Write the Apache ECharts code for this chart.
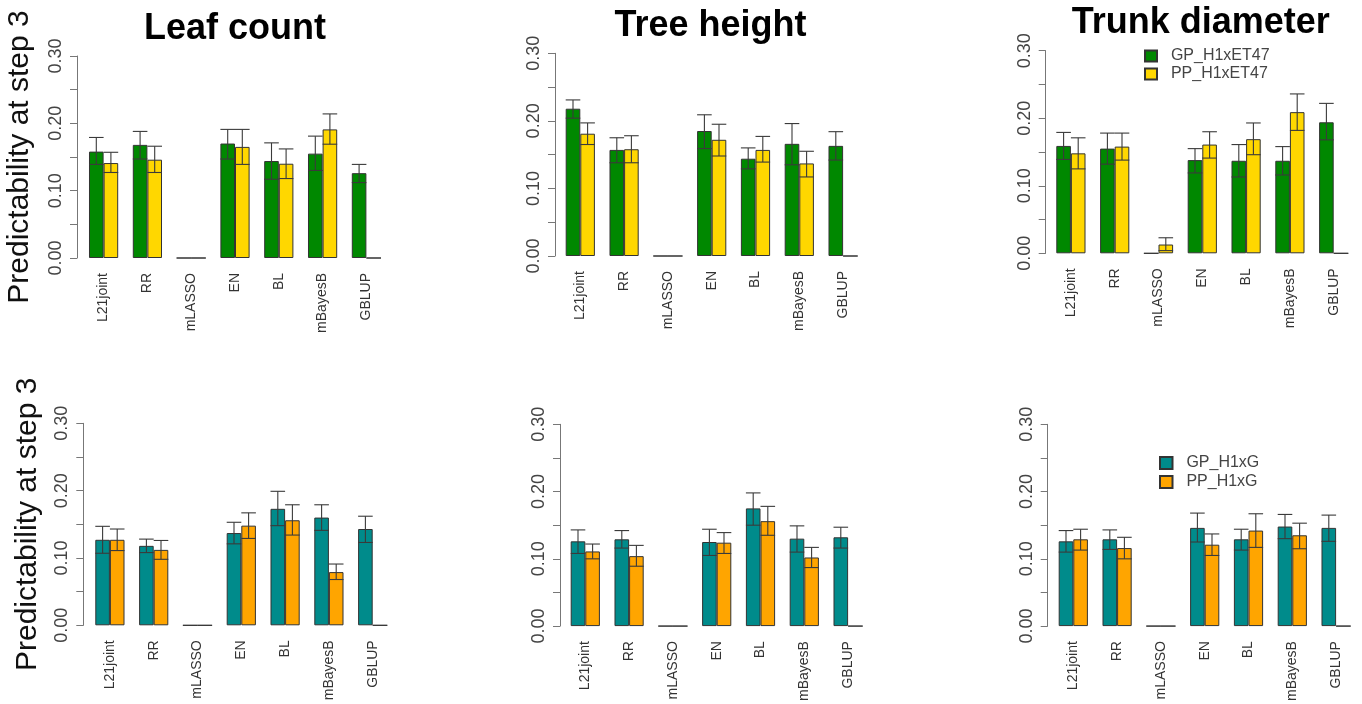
<!DOCTYPE html>
<html>
<head>
<meta charset="utf-8">
<script src="https://cdn.jsdelivr.net/npm/echarts@6/dist/echarts.min.js"></script>
<style>
html,body{margin:0;padding:0;background:#fff;}
#chart{width:1362px;height:704px;}
</style>
</head>
<body>
<div id="chart"></div>
<script>
// ---------- data ----------
const categories = ['L21joint', 'RR', 'mLASSO', 'EN', 'BL', 'mBayesB', 'GBLUP'];
const yTickValues = [0.00, 0.10, 0.20, 0.30];
const titles = ['Leaf count', 'Tree height', 'Trunk diameter'];
const yAxisTitle = 'Predictability at step 3';
const topSeriesNames = ['GP_H1xET47', 'PP_H1xET47'];
const bottomSeriesNames = ['GP_H1xG', 'PP_H1xG'];

// Top row (H1xET47)
const leafGP_ET = [0.158, 0.168, 0, 0.170, 0.144, 0.155, 0.126];
const leafGP_ET_lo = [0.139, 0.147, 0, 0.147, 0.117, 0.130, 0.112];
const leafGP_ET_hi = [0.179, 0.188, 0, 0.191, 0.171, 0.181, 0.139];
const leafPP_ET = [0.141, 0.146, 0, 0.165, 0.140, 0.191, 0];
const leafPP_ET_lo = [0.127, 0.127, 0, 0.139, 0.118, 0.169, 0];
const leafPP_ET_hi = [0.157, 0.166, 0, 0.191, 0.162, 0.214, 0];

const heightGP_ET = [0.218, 0.157, 0, 0.185, 0.144, 0.166, 0.163];
const heightGP_ET_lo = [0.204, 0.138, 0, 0.159, 0.129, 0.135, 0.142];
const heightGP_ET_hi = [0.231, 0.175, 0, 0.209, 0.160, 0.196, 0.184];
const heightPP_ET = [0.181, 0.158, 0, 0.172, 0.157, 0.137, 0];
const heightPP_ET_lo = [0.165, 0.138, 0, 0.148, 0.139, 0.117, 0];
const heightPP_ET_hi = [0.197, 0.178, 0, 0.195, 0.177, 0.155, 0];

const trunkGP_ET = [0.159, 0.155, 0, 0.138, 0.137, 0.137, 0.194];
const trunkGP_ET_lo = [0.139, 0.132, 0, 0.119, 0.113, 0.116, 0.168];
const trunkGP_ET_hi = [0.179, 0.178, 0, 0.155, 0.161, 0.158, 0.222];
const trunkPP_ET = [0.148, 0.158, 0.013, 0.161, 0.169, 0.209, 0];
const trunkPP_ET_lo = [0.125, 0.138, 0.004, 0.141, 0.146, 0.182, 0];
const trunkPP_ET_hi = [0.171, 0.178, 0.023, 0.180, 0.193, 0.236, 0];

// Bottom row (H1xG)
const leafGP_G = [0.127, 0.118, 0, 0.137, 0.173, 0.160, 0.143];
const leafGP_G_lo = [0.107, 0.108, 0, 0.121, 0.148, 0.141, 0.123];
const leafGP_G_hi = [0.147, 0.128, 0, 0.153, 0.199, 0.179, 0.162];
const leafPP_G = [0.127, 0.112, 0, 0.148, 0.156, 0.079, 0];
const leafPP_G_lo = [0.111, 0.098, 0, 0.129, 0.134, 0.068, 0];
const leafPP_G_hi = [0.143, 0.126, 0, 0.167, 0.179, 0.091, 0];

const heightGP_G = [0.126, 0.129, 0, 0.125, 0.175, 0.130, 0.132];
const heightGP_G_lo = [0.108, 0.116, 0, 0.105, 0.150, 0.110, 0.116];
const heightGP_G_hi = [0.143, 0.142, 0, 0.144, 0.198, 0.149, 0.147];
const heightPP_G = [0.111, 0.104, 0, 0.124, 0.156, 0.102, 0];
const heightPP_G_lo = [0.100, 0.089, 0, 0.108, 0.135, 0.087, 0];
const heightPP_G_hi = [0.122, 0.120, 0, 0.139, 0.178, 0.117, 0];

const trunkGP_G = [0.126, 0.129, 0, 0.146, 0.129, 0.148, 0.146];
const trunkGP_G_lo = [0.110, 0.114, 0, 0.125, 0.113, 0.130, 0.126];
const trunkGP_G_hi = [0.142, 0.143, 0, 0.168, 0.144, 0.166, 0.165];
const trunkPP_G = [0.129, 0.116, 0, 0.121, 0.142, 0.135, 0];
const trunkPP_G_lo = [0.113, 0.100, 0, 0.105, 0.117, 0.115, 0];
const trunkPP_G_hi = [0.144, 0.132, 0, 0.137, 0.167, 0.153, 0];

// ---------- layout / style ----------
const FONT = '"Liberation Sans", Arial, Helvetica, sans-serif';
const COL_GP_ET = '#008800', COL_PP_ET = '#FFD700';
const COL_GP_G = '#008B8B', COL_PP_G = '#FFA500';
const BAND = 43.8;
// axis x, first bar left, y(0.30), y(0.00)
const panels = [
  {ax: 77,     bl: 89,     top: 56,    bot: 258,   row: 0, col: 0},
  {ax: 555,    bl: 565.7,  top: 53.3,  bot: 256,   row: 0, col: 1},
  {ax: 1045.7, bl: 1056.3, top: 50.7,  bot: 253.3, row: 0, col: 2},
  {ax: 83.3,   bl: 95.3,   top: 423.3, bot: 625.3, row: 1, col: 0},
  {ax: 560,    bl: 570.7,  top: 424.3, bot: 626.7, row: 1, col: 1},
  {ax: 1047.7, bl: 1058.7, top: 424.3, bot: 626.7, row: 1, col: 2}
];
const panelData = [
  [leafGP_ET, leafGP_ET_lo, leafGP_ET_hi, leafPP_ET, leafPP_ET_lo, leafPP_ET_hi],
  [heightGP_ET, heightGP_ET_lo, heightGP_ET_hi, heightPP_ET, heightPP_ET_lo, heightPP_ET_hi],
  [trunkGP_ET, trunkGP_ET_lo, trunkGP_ET_hi, trunkPP_ET, trunkPP_ET_lo, trunkPP_ET_hi],
  [leafGP_G, leafGP_G_lo, leafGP_G_hi, leafPP_G, leafPP_G_lo, leafPP_G_hi],
  [heightGP_G, heightGP_G_lo, heightGP_G_hi, heightPP_G, heightPP_G_lo, heightPP_G_hi],
  [trunkGP_G, trunkGP_G_lo, trunkGP_G_hi, trunkPP_G, trunkPP_G_lo, trunkPP_G_hi]
];

function renderErr(params, api) {
  const i = api.value(0), lo = api.value(1), hi = api.value(2), side = api.value(3);
  const pLo = api.coord([i, lo]);
  const pHi = api.coord([i, hi]);
  const band = api.size([1, 0])[0];
  const bw = band / 3;
  const cx = pLo[0] + side * bw / 2;
  const hw = bw / 2;
  const st = {stroke: '#3a3a3a', lineWidth: 1.1};
  return {
    type: 'group',
    children: [
      {type: 'line', shape: {x1: cx, y1: pHi[1], x2: cx, y2: pLo[1]}, style: st},
      {type: 'line', shape: {x1: cx - hw, y1: pHi[1], x2: cx + hw, y2: pHi[1]}, style: st},
      {type: 'line', shape: {x1: cx - hw, y1: pLo[1], x2: cx + hw, y2: pLo[1]}, style: st}
    ]
  };
}

const grids = [], xAxes = [], yAxes = [], series = [];
panels.forEach((p, k) => {
  const left = p.bl - BAND / 6;
  grids.push({left: left, top: p.top, width: BAND * 7, height: p.bot - p.top});
  xAxes.push({
    type: 'category', gridIndex: k, data: categories,
    axisLine: {show: false}, axisTick: {show: false},
    axisLabel: {interval: 0, rotate: 90, margin: 15, fontSize: 14, color: '#333', fontFamily: FONT}
  });
  yAxes.push({
    type: 'value', gridIndex: k, min: 0, max: 0.30, interval: 0.05,
    offset: left - p.ax,
    splitLine: {show: false},
    axisLine: {show: true, lineStyle: {color: '#777', width: 1}},
    axisTick: {show: true, length: 7, lineStyle: {color: '#777', width: 1}},
    axisLabel: {
      rotate: 90, margin: 12, fontSize: 18, color: '#444', fontFamily: FONT,
      formatter: v => (yTickValues.some(t => Math.abs(t - v) < 1e-6) ? v.toFixed(2) : '')
    },
    name: p.col === 0 ? yAxisTitle : '',
    nameLocation: 'middle', nameRotate: 90,
    nameGap: p.row === 0 ? 42 : 41,
    nameTextStyle: {fontSize: 30, color: '#111', fontFamily: FONT}
  });
  const d = panelData[k];
  const names = p.row === 0 ? topSeriesNames : bottomSeriesNames;
  const cols = p.row === 0 ? [COL_GP_ET, COL_PP_ET] : [COL_GP_G, COL_PP_G];
  [0, 1].forEach(s => {
    series.push({
      type: 'bar', name: names[s], xAxisIndex: k, yAxisIndex: k,
      data: d[s * 3], barGap: '0%', barCategoryGap: '33.333%',
      itemStyle: {color: cols[s], borderColor: '#333', borderWidth: 1},
      emphasis: {disabled: true}, z: 2, animation: false
    });
  });
  const errData = [];
  [0, 1].forEach(s => {
    const lo = d[s * 3 + 1], hi = d[s * 3 + 2];
    for (let i = 0; i < categories.length; i++) {
      if (hi[i] > 0) errData.push([i, lo[i], hi[i], s === 0 ? -1 : 1]);
    }
  });
  series.push({
    type: 'custom', xAxisIndex: k, yAxisIndex: k, renderItem: renderErr,
    data: errData, encode: {x: 0, y: [1, 2]}, z: 5, silent: true, animation: false
  });
});

const titleX = [235, 710.5, 1200.7];
const titleY = [29, 26, 23];
const graphics = titles.map((t, i) => ({
  type: 'text', x: titleX[i], y: titleY[i],
  style: {text: t, font: 'bold 36px ' + FONT, fill: '#000', textAlign: 'center', textVerticalAlign: 'middle'}
}));

const legendText = {fontSize: 16, color: '#444', fontFamily: FONT};
const option = {
  backgroundColor: '#fff',
  animation: false,
  textStyle: {fontFamily: FONT},
  grid: grids, xAxis: xAxes, yAxis: yAxes, series: series,
  graphic: graphics,
  legend: [
    {
      data: topSeriesNames, orient: 'vertical', left: 1144, top: 48, padding: 0,
      icon: 'rect', itemWidth: 12, itemHeight: 11, itemGap: 2,
      formatter: n => '\u00a0\u00a0' + n, textStyle: legendText,
      selectedMode: false
    },
    {
      data: bottomSeriesNames, orient: 'vertical', left: 1159, top: 455, padding: 0,
      icon: 'rect', itemWidth: 12.5, itemHeight: 12, itemGap: 3,
      formatter: n => '\u00a0\u00a0' + n, textStyle: legendText,
      selectedMode: false
    }
  ]
};
const chart = echarts.init(document.getElementById('chart'), null, {renderer: 'canvas'});
chart.setOption(option);
</script>
</body>
</html>
